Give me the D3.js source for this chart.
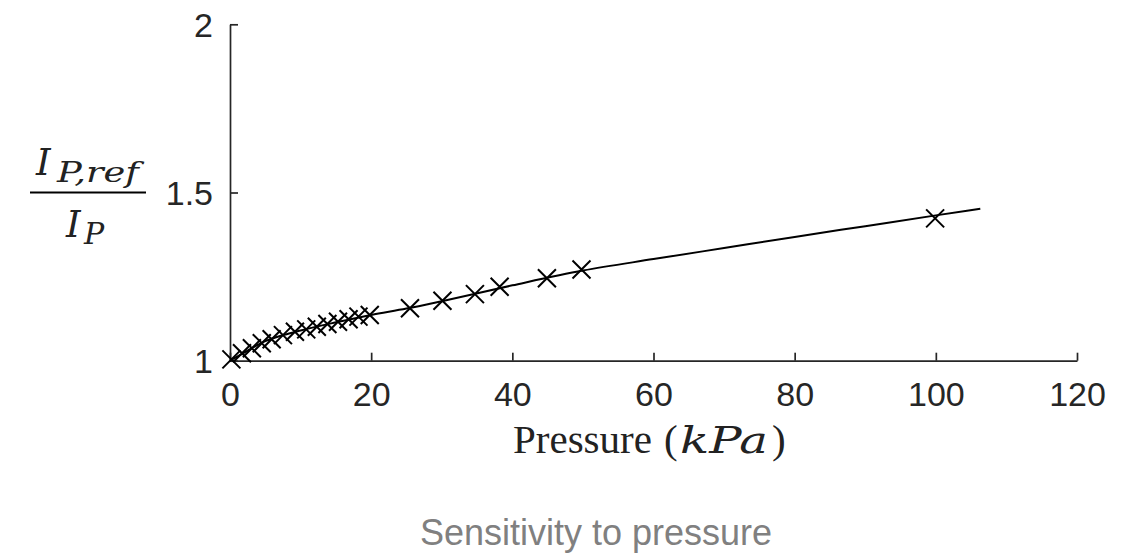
<!DOCTYPE html>
<html>
<head>
<meta charset="utf-8">
<script src="https://cdn.jsdelivr.net/npm/d3@7"></script>
<style>
  html, body { margin: 0; padding: 0; background: #fff; }
  svg { display: block; }
</style>
</head>
<body>
<svg id="chart" width="1132" height="556"></svg>
<script>
// Measured intensity ratio vs. applied pressure
const pressure = [0.2, 1.7, 3.1, 4.5, 5.9, 7.5, 9.2, 10.8, 12.3, 13.8, 15.3, 16.8, 18.2, 19.8,
                  25.5, 30.1, 34.7, 38.2, 44.9, 49.8, 99.9];
const ratio    = [1.004, 1.022, 1.037, 1.052, 1.064, 1.076, 1.086, 1.093, 1.101, 1.109, 1.116, 1.123, 1.131, 1.136,
                  1.156, 1.178, 1.198, 1.220, 1.245, 1.271, 1.423];

// Fitted curve
const fitPressure = [0, 1, 2.5, 5, 7.5, 10, 15, 20, 25, 30, 40, 50, 60, 70, 80, 90, 100, 106.3];
const fitRatio    = [1.0, 1.012, 1.03, 1.058, 1.076, 1.09, 1.114, 1.136, 1.155, 1.177, 1.224, 1.268, 1.302, 1.335, 1.368, 1.400, 1.432, 1.452];

const xTicks = [0, 20, 40, 60, 80, 100, 120];
const yTicks = [1, 1.5, 2];
const yTickLabels = ["1", "1.5", "2"];
const titleText = "Sensitivity to pressure";

const svg = d3.select("#chart");
const axisColor = "#262626";
const sans = "'Liberation Sans', Arial, sans-serif";
const serif = "'Liberation Serif', 'DejaVu Serif', serif";
const mathSerif = "'DejaVu Serif', 'Liberation Serif', serif";

const x = d3.scaleLinear().domain([0, 120]).range([230, 1077]);
const y = d3.scaleLinear().domain([1, 2]).range([360.7, 24.3]);

// X axis (ticks point inward)
const gx = svg.append("g")
  .attr("transform", `translate(0,${y(1)})`)
  .call(d3.axisBottom(x).tickValues(xTicks).tickSize(-8).tickSizeOuter(0).tickPadding(21).tickFormat(d3.format("d")));
// Y axis
const gy = svg.append("g")
  .attr("transform", `translate(${x(0)},0)`)
  .call(d3.axisLeft(y).tickValues(yTicks).tickSize(-8).tickSizeOuter(0).tickPadding(17)
        .tickFormat((d, i) => yTickLabels[i]));

[gx, gy].forEach(g => {
  g.select(".domain").attr("stroke", axisColor).attr("stroke-width", 1.7);
  g.selectAll(".tick line").attr("stroke", axisColor).attr("stroke-width", 1.7);
  g.selectAll(".tick text")
    .attr("fill", axisColor)
    .style("font-family", sans)
    .style("font-size", "34px");
});
gx.selectAll(".tick text").attr("dy", "0.71em");
gy.selectAll(".tick text").attr("dy", "0.36em");

// Fitted line
const line = d3.line().x(d => x(d[0])).y(d => y(d[1])).curve(d3.curveMonotoneX);
svg.append("path")
  .datum(fitPressure.map((p, i) => [p, fitRatio[i]]))
  .attr("d", line)
  .attr("fill", "none")
  .attr("stroke", "#000")
  .attr("stroke-width", 2);

// Cross markers
const m = 9;
svg.append("g").selectAll("path.mk")
  .data(pressure.map((p, i) => [p, ratio[i]]))
  .join("path")
  .attr("class", "mk")
  .attr("d", d => {
    const cx = x(d[0]), cy = y(d[1]);
    return `M${cx - m},${cy - m}L${cx + m},${cy + m}M${cx - m},${cy + m}L${cx + m},${cy - m}`;
  })
  .attr("fill", "none")
  .attr("stroke", "#000")
  .attr("stroke-width", 2);

// X label: "Pressure (kPa)" with the unit set in math italic
const xl = svg.append("g").style("font-family", serif).style("font-size", "41px").attr("fill", "#222");
xl.append("text").attr("x", 513).attr("y", 453).text("Pressure");
xl.append("text").attr("x", 664).attr("y", 453).text("(");
xl.append("text").attr("x", 680).attr("y", 453)
  .style("font-family", mathSerif).style("font-style", "italic").style("font-size", "37px")
  .attr("textLength", 88).attr("lengthAdjust", "spacingAndGlyphs").text("kPa");
xl.append("text").attr("x", 772).attr("y", 453).text(")");

// Y label: fraction I_{P,ref} / I_P
const yl = svg.append("g").style("font-family", mathSerif).style("font-style", "italic").attr("fill", "#222");
yl.append("text").attr("x", 36).attr("y", 175).style("font-size", "37px").text("I");
yl.append("text").attr("x", 57).attr("y", 181.5).style("font-size", "27px")
  .attr("textLength", 82).attr("lengthAdjust", "spacingAndGlyphs").text("P,ref");
yl.append("line")
  .attr("x1", 30).attr("x2", 146).attr("y1", 192.5).attr("y2", 192.5)
  .attr("stroke", "#000").attr("stroke-width", 2);
yl.append("text").attr("x", 66).attr("y", 237).style("font-size", "37px").text("I");
yl.append("text").attr("x", 84).attr("y", 244).style("font-size", "30px").text("P");

// Title below the chart
svg.append("text")
  .attr("x", 596).attr("y", 545)
  .attr("text-anchor", "middle")
  .style("font-family", sans)
  .style("font-size", "36px")
  .attr("fill", "#808080")
  .text(titleText);
</script>
</body>
</html>
